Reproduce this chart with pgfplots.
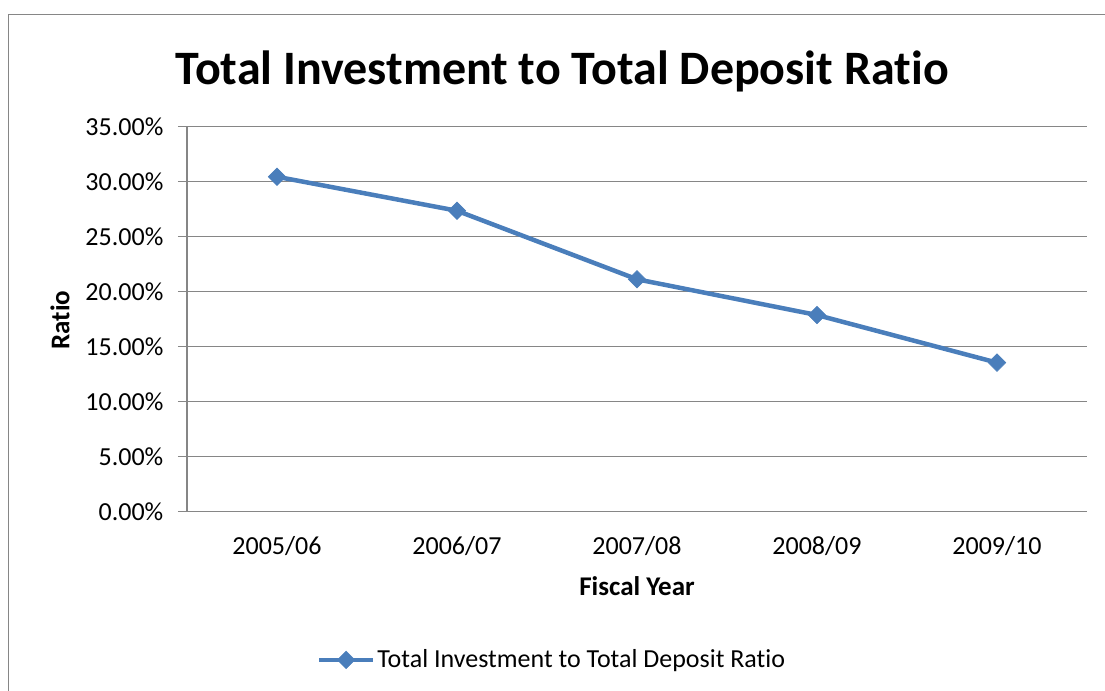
\documentclass[border=0pt]{standalone}
\usepackage{fontspec}
\setmainfont{Carlito}[Ligatures={NoCommon}]
\usepackage{pgfplots}
\pgfplotsset{compat=1.18}
\definecolor{excelblue}{HTML}{4A7EBB}
\definecolor{gridgray}{HTML}{868686}
\begin{document}
\begin{tikzpicture}[x=0.5pt,y=-0.5pt]
\useasboundingbox (0,0) rectangle (1105,691);
\draw[gridgray, line width=0.7pt] (8.5,691) -- (8.5,14.5) -- (1105,14.5);
\node[anchor=base, font=\fontsize{24}{28}\selectfont\bfseries] at (562,84) {Total Investment to Total Deposit Ratio};
\node[font=\fontsize{13.5}{16}\selectfont\bfseries, rotate=90] at (60,320) {Ratio};
\node[font=\fontsize{13.5}{16}\selectfont\bfseries] at (637,586) {Fiscal Year};
\begin{axis}[
  at={(93.5pt,-255.85pt)}, anchor=south west,
  scale only axis, width=450pt, height=192.5pt,
  xmin=-0.5, xmax=4.5, ymin=0, ymax=35,
  xtick={0,1,2,3,4},
  xticklabels={2005/06,2006/07,2007/08,2008/09,2009/10},
  ytick={0,5,10,15,20,25,30,35},
  yticklabel={\pgfmathprintnumber[fixed,fixed zerofill,precision=2]{\tick}\%},
  /pgf/number format/assume math mode=true,
  ticklabel style={font=\fontsize{13}{15}\selectfont},
  yticklabel style={xshift=-3.8pt},
  xticklabel style={yshift=-4.5pt},
  ymajorgrids, grid style={gridgray, line width=0.7pt},
  axis x line*=bottom, axis y line*=left,
  axis line style={gridgray, line width=0.7pt, -},
  tick align=outside, major tick length=4.5pt,
  x tick style={draw=none}, y tick style={gridgray, line width=0.7pt},
  clip=false,
  legend style={at={(0.4056,-0.385)}, anchor=center, draw=none, fill=none,
    font=\fontsize{13}{15}\selectfont, inner sep=0pt,
    nodes={inner sep=1pt},
    /tikz/every even column/.append style={column sep=0pt}},
  legend image code/.code={\draw[mark repeat=2,mark phase=2,#1] plot coordinates {(0pt,0pt) (13.5pt,0pt) (27pt,0pt)};},
]
\addplot[excelblue, line width=2.25pt, mark=square*, mark size=3.1pt,
  mark options={solid, rotate=45, fill=excelblue, draw=excelblue, line width=0.3pt}]
  coordinates {(0,30.45) (1,27.36) (2,21.13) (3,17.88) (4,13.55)};
\addlegendentry{Total Investment to Total Deposit Ratio}
\end{axis}
\end{tikzpicture}
\end{document}
